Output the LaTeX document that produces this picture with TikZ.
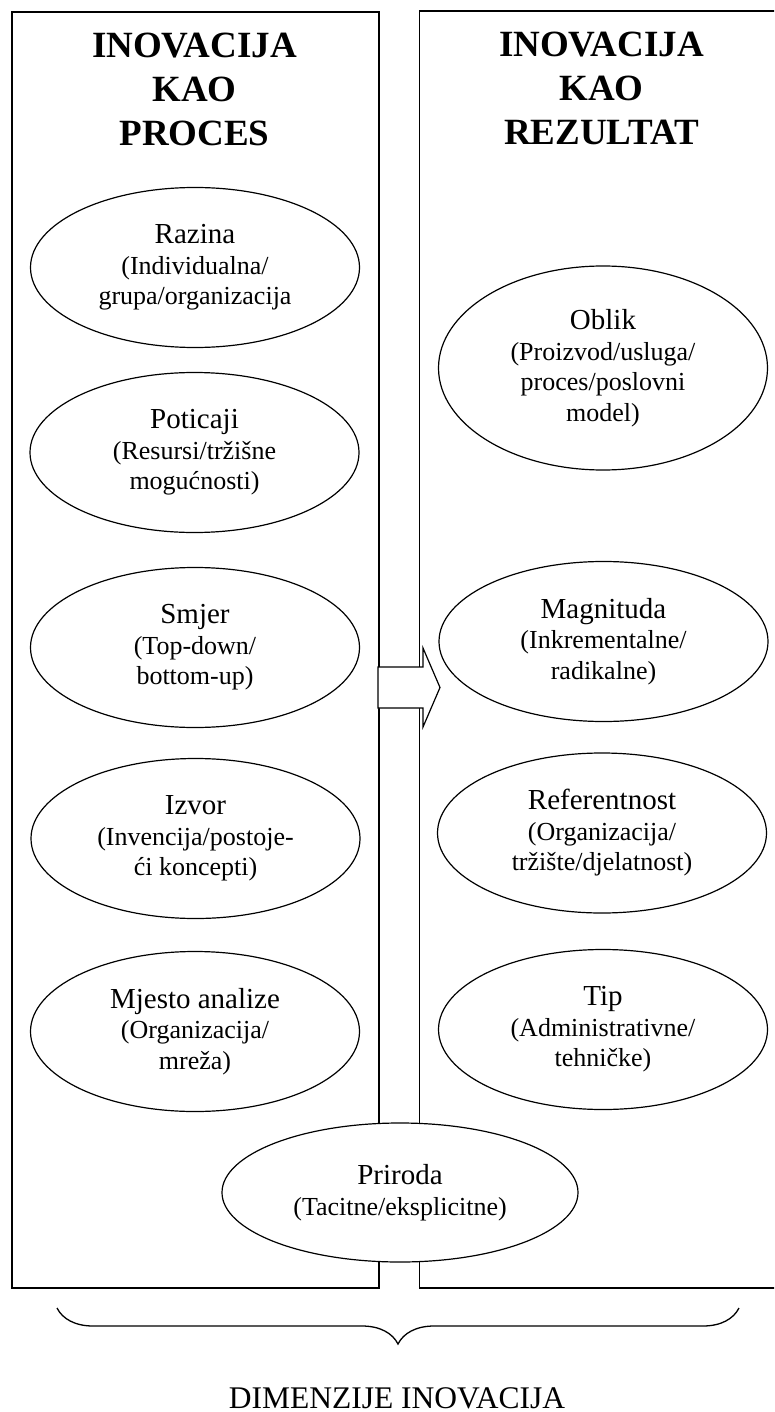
\documentclass[tikz,border=0pt]{standalone}
\usepackage{fontspec}
\setmainfont{Liberation Serif}
\usetikzlibrary{shapes.geometric,decorations.pathreplacing}
\begin{document}
\begin{tikzpicture}[x=1pt,y=-1pt,
  boxline/.style={line width=1.4pt},
  ell/.style={ellipse, draw, fill=white, line width=1.2pt, inner sep=0pt,
    minimum width=329pt, minimum height=160pt,
    font=\fontsize{26}{30.5}\selectfont, align=center},
  big/.style={font=\fontsize{29}{31}\selectfont},
  ttl/.style={font=\fontsize{37}{44}\selectfont\bfseries, align=center,
    inner sep=0pt, anchor=north}]
\useasboundingbox (0,0) rectangle (774,1412);
\clip (0,0) rectangle (774,1412);
% boxes
\draw[boxline] (12,12) rectangle (379,1288);
\draw[boxline] (419.5,11) rectangle (790,1288);
% arrow
\draw[line width=1.2pt, fill=white, line join=miter]
  (378,667) -- (423,667) -- (423,648) -- (440,687.5) -- (423,727)
  -- (423,708) -- (378,708) -- cycle;
% titles
\node[ttl] (tl) at (194.5,32.5) {INOVACIJA\\KAO\\PROCES};
\node[ttl] (tr) at (601.5,32) {INOVACIJA\\KAO\\REZULTAT};
% left ellipses
\node[ell] (razina) at (195,267.5) {{\fontsize{29}{31}\selectfont Razina}\\(Individualna/\\grupa/organizacija};
\node[ell] (poticaji) at (194.5,452.5) {{\fontsize{29}{31}\selectfont Poticaji}\\(Resursi/tržišne\\mogućnosti)};
\node[ell] (smjer) at (195,647.5) {{\fontsize{29}{31}\selectfont Smjer}\\(Top-down/\\bottom-up)};
\node[ell] (izvor) at (195.5,838.5) {{\fontsize{29}{31}\selectfont Izvor}\\(Invencija/postoje-\\ći koncepti)};
\node[ell] (mjesto) at (195,1031.5) {{\fontsize{29}{31}\selectfont Mjesto analize}\\(Organizacija/\\mreža)};
% right ellipses
\node[ell, minimum height=204pt] (oblik) at (603,368) {{\fontsize{29}{31}\selectfont Oblik}\\(Proizvod/usluga/\\proces/poslovni\\model)};
\node[ell] (magnituda) at (603.5,641.5) {{\fontsize{29}{31}\selectfont Magnituda}\\(Inkrementalne/\\radikalne)};
\node[ell] (referentnost) at (602,833) {{\fontsize{29}{31}\selectfont Referentnost}\\(Organizacija/\\tržište/djelatnost)};
\node[ell] (tip) at (603,1029.5) {{\fontsize{29}{31}\selectfont Tip}\\(Administrativne/\\tehničke)};
% bottom ellipse
\node[ell, minimum width=356pt, minimum height=139pt] (priroda) at (400,1192.5) {{\fontsize{29}{31}\selectfont Priroda}\\(Tacitne/eksplicitne)};
% brace
\coordinate (bl) at (57,1308);
\coordinate (br) at (739,1308);
\draw[line width=1.3pt, decorate, decoration={brace, amplitude=36pt, mirror}] (bl) -- (br);
\node[anchor=base, inner sep=0pt, font=\fontsize{31.5}{36}\selectfont] (dim) at (397,1408) {DIMENZIJE INOVACIJA};
\end{tikzpicture}
\end{document}
